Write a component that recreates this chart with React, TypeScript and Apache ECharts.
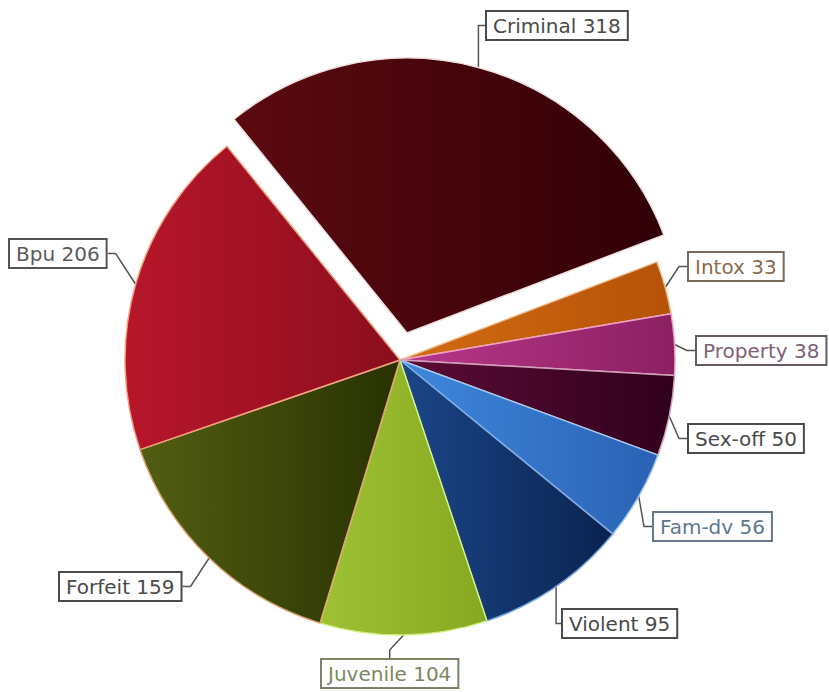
import React, { useEffect, useRef } from "react";
import * as echarts from "echarts";

const categories = ["Criminal", "Intox", "Property", "Sex-off", "Fam-dv", "Violent", "Juvenile", "Forfeit", "Bpu"];
const values = [318, 33, 38, 50, 56, 95, 104, 159, 206];
const explodedIndex = 0;

// style: gradient left/right, border tint, label text colour
const gradLeft = ["#5c0a10", "#d26c12", "#b8388a", "#5c0c36", "#3f88dc", "#1b4688", "#9ec234", "#525e12", "#b8162a"];
const gradRight = ["#300006", "#b65208", "#8c1f62", "#30001c", "#2a62b4", "#0a2350", "#86a820", "#283202", "#8a0e1e"];
const borderTint = ["#f0e0e0", "#f0c090", "#f0a0c8", "#d0a0b8", "#a0c8f0", "#80a8e0", "#d0f080", "#e0a070", "#f0a080"];
const labelText = ["#4a4a4a", "#8a6a50", "#806078", "#4a4a4a", "#607890", "#4a4a4a", "#7a8860", "#4a4a4a", "#5a5a5a"];
const labelBorder = ["#4a4a4a", "#7a6a5a", "#6a5a66", "#4a4a4a", "#6a7888", "#4a4a4a", "#7a8468", "#4a4a4a", "#555555"];
// label box top-left positions
const labelPos: [number, number][] = [
  [487, 12], [689, 253], [697, 337], [689, 425], [654, 513], [563, 610], [322, 660], [60, 573], [10, 240],
];

const CENTER: [number, number] = [400, 360];
const OFFSET: [number, number] = [7, -27];

export default function App() {
  const ref = useRef<HTMLDivElement>(null);
  useEffect(() => {
    if (!ref.current) return;
    const chart = echarts.init(ref.current, undefined, { renderer: "svg" });
    const makeData = (visible: (i: number) => boolean) =>
      categories.map((name, i) => {
        const on = visible(i);
        return {
          name,
          value: values[i],
          itemStyle: on
            ? {
                color: new echarts.graphic.LinearGradient(0, 0, 1, 0, [
                  { offset: 0, color: gradLeft[i] },
                  { offset: 1, color: gradRight[i] },
                ]),
                borderColor: borderTint[i],
                borderWidth: 1.5,
              }
            : { color: "rgba(0,0,0,0)", borderWidth: 0 },
          label: on
            ? { show: true, color: labelText[i], borderColor: labelBorder[i] }
            : { show: false },
          labelLine: { show: on },
        };
      });
    const base = {
      type: "pie",
      radius: 275,
      startAngle: 129,
      clockwise: true,
      avoidLabelOverlap: false,
      silent: true,
      label: {
        show: true,
        formatter: "{b} {c}",
        fontFamily: "DejaVu Sans",
        fontSize: 20,
        backgroundColor: "#ffffff",
        borderWidth: 2,
        padding: [4, 6, 3, 6],
      },
      labelLine: {
        show: true,
        length: 12,
        length2: 8,
        lineStyle: { color: "#555555", width: 1.5 },
      },
      labelLayout: (params: any) => {
        const p = labelPos[params.dataIndex];
        return { x: p[0], y: p[1], align: "left", verticalAlign: "top" };
      },
      emphasis: { disabled: true },
    };
    chart.setOption({
      animation: false,
      backgroundColor: "#ffffff",
      series: [
        { ...base, center: CENTER, data: makeData((i) => i !== explodedIndex) },
        {
          ...base,
          center: [CENTER[0] + OFFSET[0], CENTER[1] + OFFSET[1]],
          data: makeData((i) => i === explodedIndex),
        },
      ],
    });
    return () => chart.dispose();
  }, []);
  return <div ref={ref} style={{ position: "fixed", left: 0, top: 0, width: 829, height: 692 }} />;
}
